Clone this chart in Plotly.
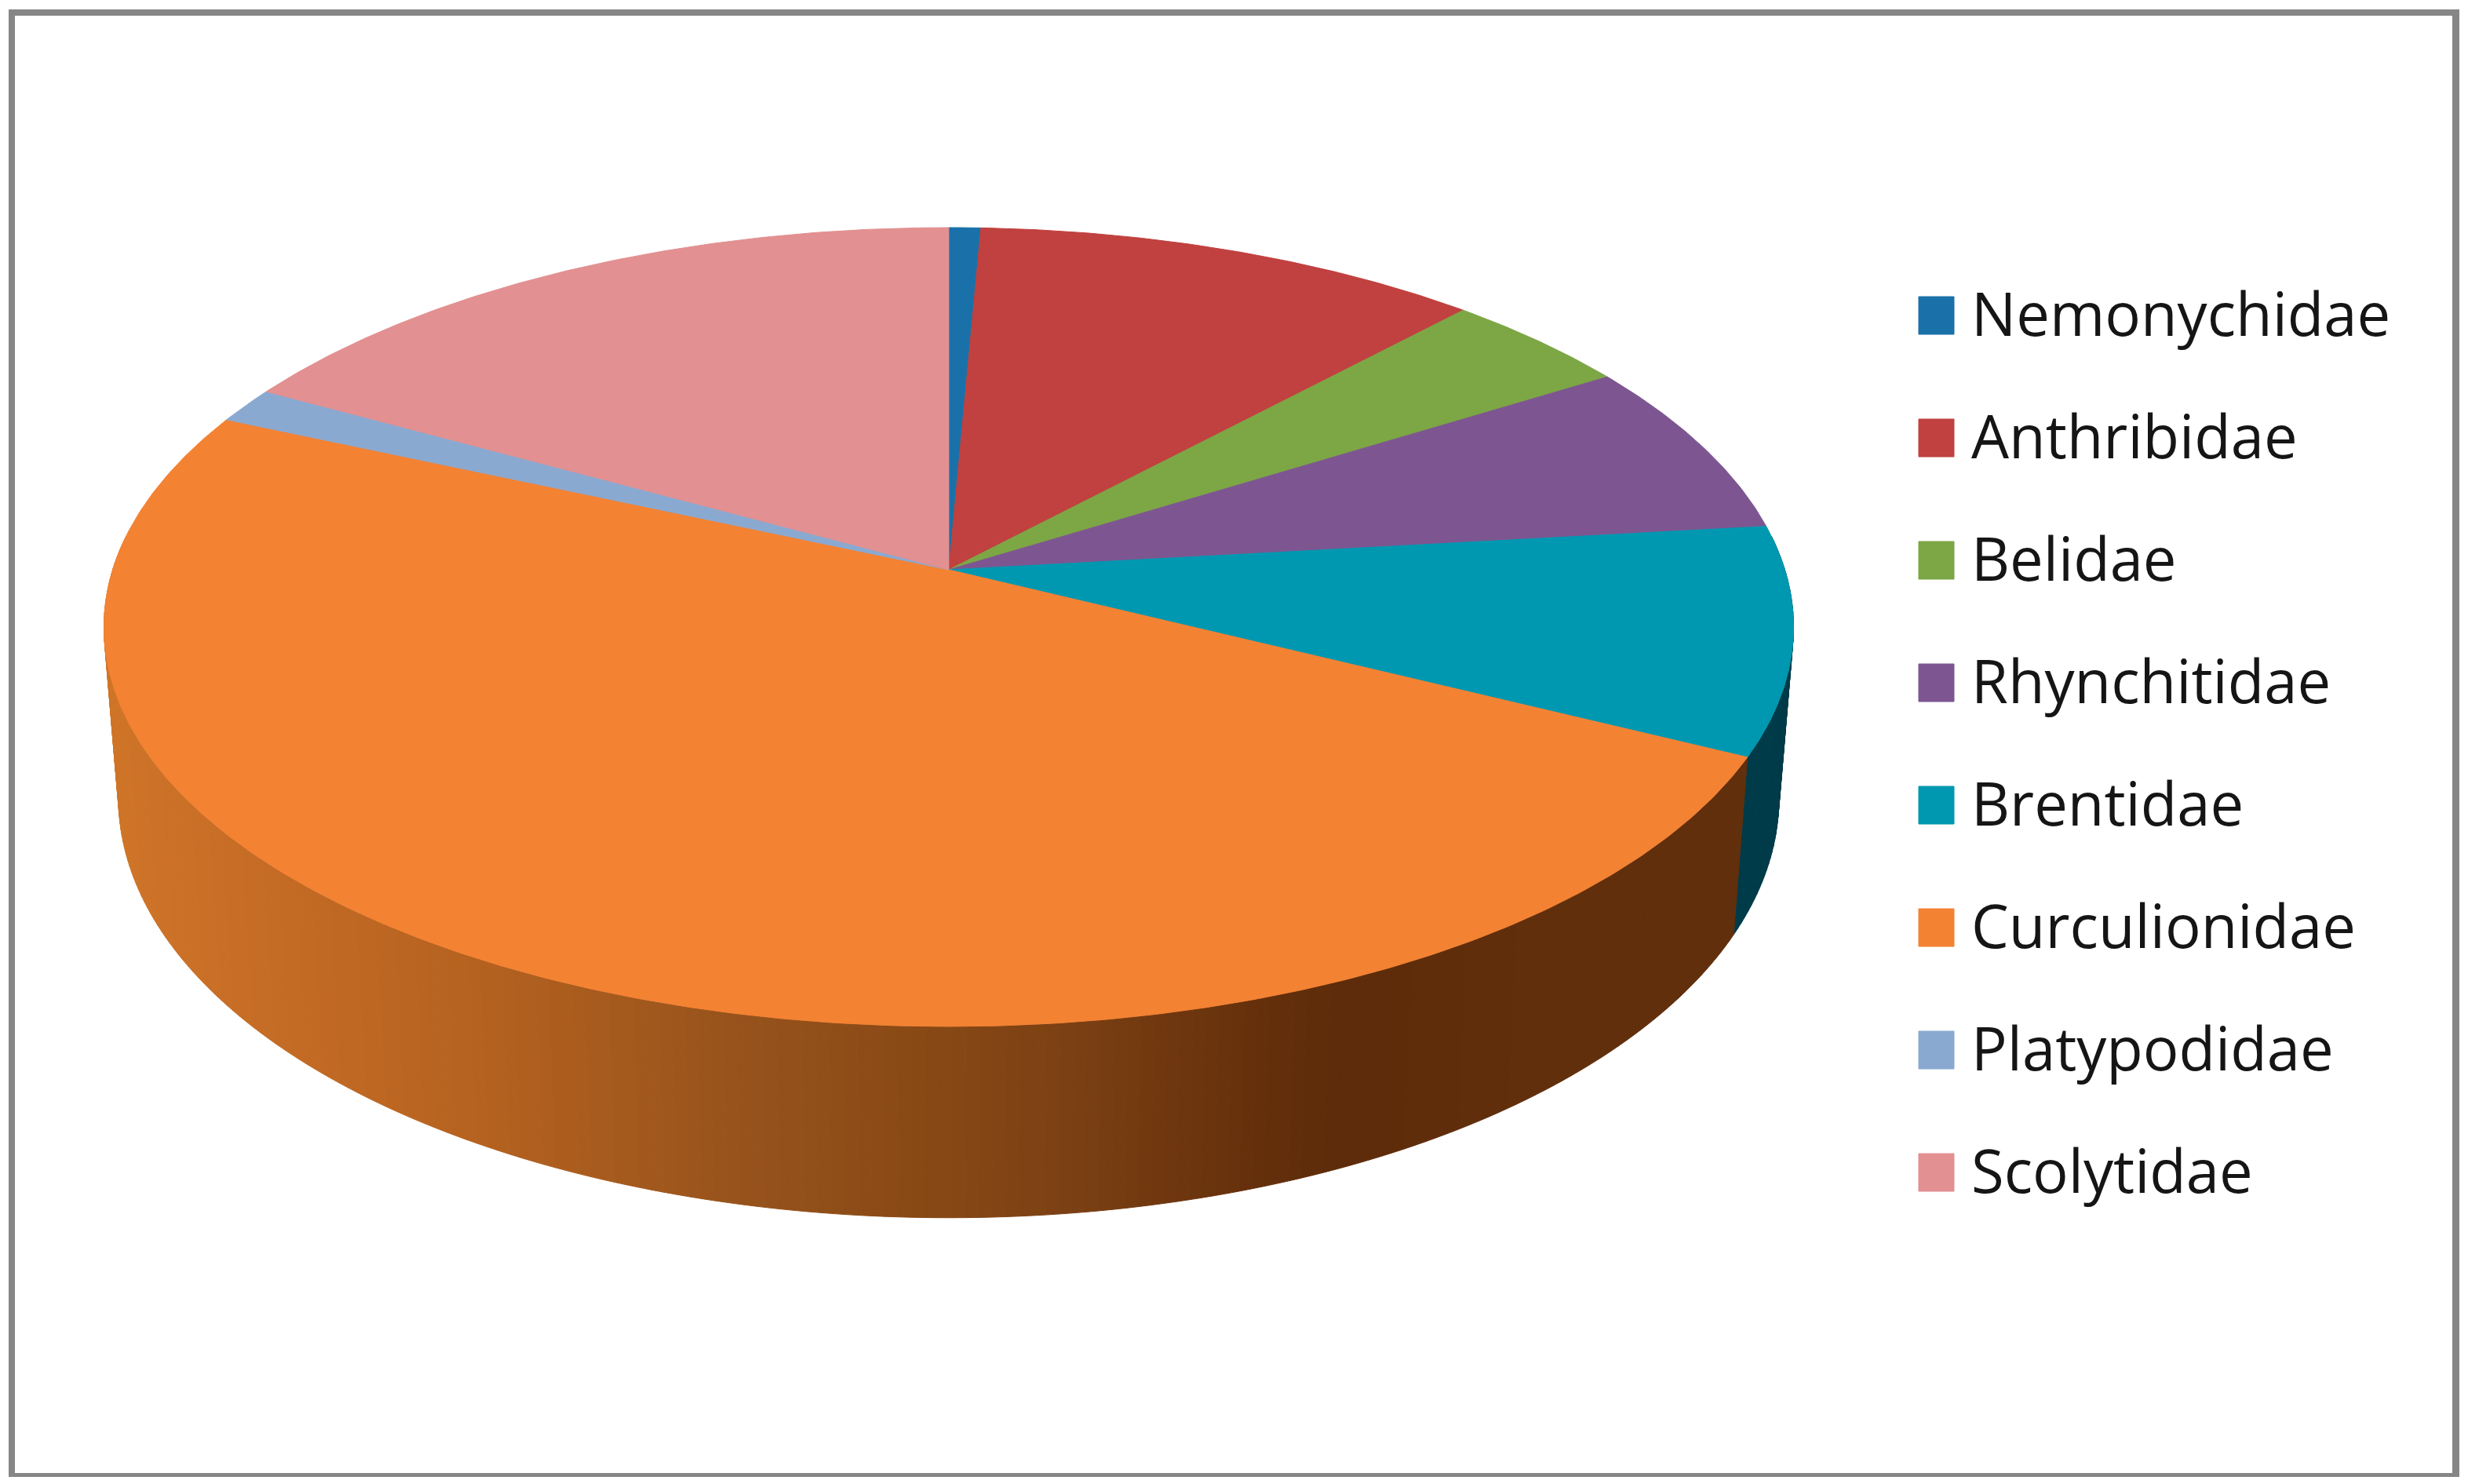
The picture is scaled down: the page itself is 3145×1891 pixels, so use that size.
import numpy as np
import plotly.graph_objects as go

categories = ["Nemonychidae", "Anthribidae", "Belidae", "Rhynchitidae",
              "Brentidae", "Curculionidae", "Platypodidae", "Scolytidae"]
values = [0.7, 11.2, 4.2, 7.1, 9.2, 49.25, 1.45, 16.9]
colors = ["#1A71A9", "#C0413F", "#7DA645", "#7D5691",
          "#0098B1", "#F38233", "#8AA9D1", "#E29091"]
side_dark = {"Brentidae": "#003B49"}
shade_x = [140, 300, 625, 950, 1167, 1384, 1600, 1710, 1926, 2300]
shade_r = [0xD0, 0xC8, 0xB5, 0x97, 0x8A, 0x7A, 0x65, 0x5E, 0x62, 0x63]
shade_g = [0x76, 0x6E, 0x62, 0x53, 0x4A, 0x3F, 0x30, 0x2C, 0x2F, 0x30]
shade_b = [0x29, 0x27, 0x20, 0x1C, 0x16, 0x13, 0x0C, 0x0A, 0x0C, 0x0D]

W, H = 3145, 1891
CX = 1209
C = 0.1434
TOP = dict(ay=726, a=1065.4, b=498.5)
BOT = dict(ay=940, a=1047.0, b=524.0)
LEG_X0, LEG_X1, LEG_Y0, LEG_STEP, LEG_H = 2445, 2490, 402, 156.0, 48


def project(theta_deg, g):
    t = np.radians(np.asarray(theta_deg, dtype=float))
    u, v = np.sin(t), np.cos(t)
    d = 1 + C * v
    return CX + g["a"] * u / d, g["ay"] - g["b"] * v / d


fig = go.Figure()


def poly(xs, ys, color, name):
    xs, ys = list(xs), list(ys)
    fig.add_trace(go.Scatter(
        x=xs + xs[:1], y=ys + ys[:1], mode="lines", fill="toself",
        fillcolor=color, line=dict(color=color, width=1),
        hoverinfo="text", text=name, showlegend=False))


edges = np.concatenate([[0], np.cumsum(values)]) / sum(values) * 360.0

# sides of the front half, drawn first so that the top faces cover them
FRONT0, FRONT1 = 85.0, 275.0
for i, cat in enumerate(categories):
    a0, a1 = max(edges[i], FRONT0), min(edges[i + 1], FRONT1)
    if a1 <= a0:
        continue
    n = max(2, int(np.ceil((a1 - a0) / 0.8)))
    th = np.linspace(a0, a1, n + 1)
    xt, yt = project(th, TOP)
    xb, yb = project(th, BOT)
    for k in range(n):
        xm = (xb[k] + xb[k + 1]) / 2
        if cat in side_dark:
            col = side_dark[cat]
        else:
            col = "rgb(%d,%d,%d)" % (np.interp(xm, shade_x, shade_r),
                                     np.interp(xm, shade_x, shade_g),
                                     np.interp(xm, shade_x, shade_b))
        poly([xt[k], xt[k + 1], xb[k + 1], xb[k]],
             [yt[k], yt[k + 1], yb[k + 1], yb[k]], col, cat)

# top faces
for i, cat in enumerate(categories):
    th = np.linspace(edges[i], edges[i + 1], max(3, int(edges[i + 1] - edges[i]) * 2))
    xt, yt = project(th, TOP)
    poly(np.r_[CX, xt], np.r_[TOP["ay"], yt], colors[i], cat)

# legend keys and labels
rows = LEG_Y0 + LEG_STEP * np.arange(len(categories))
for i, cat in enumerate(categories):
    y0, y1 = rows[i] - LEG_H / 2, rows[i] + LEG_H / 2
    poly([LEG_X0, LEG_X1, LEG_X1, LEG_X0], [y0, y0, y1, y1], colors[i], cat)
fig.add_trace(go.Scatter(
    x=[2512] * len(categories), y=rows + 7, mode="text", text=categories,
    textposition="middle right", hoverinfo="skip", showlegend=False,
    textfont=dict(family="Open Sans", size=76, color="#151515")))

frame = "#868686"
shapes = [
    dict(x0=11, x1=3134, y0=12, y1=20),
    dict(x0=11, x1=3134, y0=1877, y1=1882),
    dict(x0=11, x1=19, y0=12, y1=1882),
    dict(x0=3125, x1=3134, y0=12, y1=1882),
]
fig.update_layout(
    width=W, height=H, autosize=False,
    margin=dict(l=0, r=0, t=0, b=0, pad=0),
    paper_bgcolor="white", plot_bgcolor="white", showlegend=False,
    xaxis=dict(range=[0, W], visible=False, fixedrange=True),
    yaxis=dict(range=[H, 0], visible=False, fixedrange=True),
    shapes=[dict(type="rect", xref="x", yref="y", fillcolor=frame,
                 line=dict(width=0), layer="below", **s) for s in shapes],
)
fig.write_html("out.html", config=dict(displayModeBar=False),
               post_script="document.body.style.margin='0';document.body.style.overflow='hidden';")
